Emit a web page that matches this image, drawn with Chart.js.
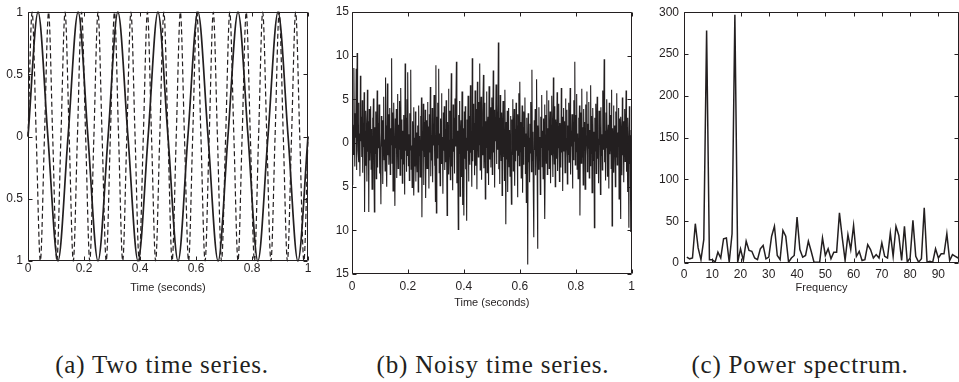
<!DOCTYPE html>
<html lang="en">
<head>
<meta charset="utf-8">
<title>time series</title>
<script src="https://cdn.jsdelivr.net/npm/chart.js@4.4.1/dist/chart.umd.min.js"></script>
<style>
  body { margin: 0; background: #fff; width: 959px; height: 382px; overflow: hidden; position: relative; }
  canvas { position: absolute; top: 0; }
  .cap { position: absolute; top: 352px; font-family: "Liberation Serif", serif; font-size: 25px;
         line-height: 25px; letter-spacing: 0.8px; color: #231f20; white-space: nowrap;
         transform: translateX(-50%); }
</style>
</head>
<body>
<canvas id="chart-a" width="320" height="300" style="left:0"></canvas>
<canvas id="chart-b" width="320" height="320" style="left:320px"></canvas>
<canvas id="chart-c" width="319" height="300" style="left:640px"></canvas>
<div class="cap" style="left:162px">(a) Two time series.</div>
<div class="cap" style="left:493px">(b) Noisy time series.</div>
<div class="cap" style="left:800px">(c) Power spectrum.</div>
<script>
// (a) 7 Hz solid wave, key points (zero, peak, zero, trough ...)
var slowTimes = [0, .036, .071, .107, .143, .179, .214, .25, .286, .321, .357, .393, .429, .464, .5,
  .536, .571, .607, .643, .679, .714, .75, .786, .821, .857, .893, .929, .964, 1];
var slowValues = [0, 1, 0, -1, 0, 1, 0, -1, 0, 1, 0, -1, 0, 1, 0, -1, 0, 1, 0, -1, 0, 1, 0, -1, 0, 1, 0, -1, 0];

// (a) 17 Hz dashed wave, key points
var fastTimes = [0, .0147, .0294, .0441, .0588, .0735, .0882, .1029, .1176, .1324, .1471, .1618, .1765,
  .1912, .2059, .2206, .2353, .25, .2647, .2794, .2941, .3088, .3235, .3382, .3529, .3676, .3824, .3971,
  .4118, .4265, .4412, .4559, .4706, .4853, .5, .5147, .5294, .5441, .5588, .5735, .5882, .6029, .6176,
  .6324, .6471, .6618, .6765, .6912, .7059, .7206, .7353, .75, .7647, .7794, .7941, .8088, .8235, .8382,
  .8529, .8676, .8824, .8971, .9118, .9265, .9412, .9559, .9706, .9853, 1];
var fastValues = [0, 1, 0, -1, 0, 1, 0, -1, 0, 1, 0, -1, 0, 1, 0, -1, 0, 1, 0, -1, 0, 1, 0, -1,
  0, 1, 0, -1, 0, 1, 0, -1, 0, 1, 0, -1, 0, 1, 0, -1, 0, 1, 0, -1, 0, 1, 0, -1,
  0, 1, 0, -1, 0, 1, 0, -1, 0, 1, 0, -1, 0, 1, 0, -1, 0, 1, 0, -1, 0];

// (b) noisy signal, 601 samples evenly over 0..1 s
var noisy = [
  0.5, -4.8, 2.1, -1.3, 8.6, 1.9, -2.7, 3.4, 0.6, 8.5, -3.1, 10.3, 2.4, -0.9, 4.6, -2.2, 1.1, -3.8, 7.7, 0.2,
  3.0, -1.6, 4.9, -3.4, 2.2, -0.5, 5.8, -7.9, 1.4, -2.6, 3.7, 0.8, -4.4, 6.1, -1.0, 2.5, -7.9, 3.9, -2.0, 0.7,
  4.2, -3.0, 1.6, -5.3, 2.9, 0.3, 5.1, -2.4, -7.9, 1.8, -1.2, 3.6, -4.1, 0.9, 6.0, -2.8, 2.3, -0.6, 4.4, -3.5,
  1.2, -2.1, -7.0, 3.1, -0.4, 2.6, -4.7, 1.5, 5.3, -1.9, 0.4, -3.2, 7.5, -0.8, 2.0, -5.0, 6.8, -1.4, 3.3, -2.5,
  0.9, 4.0, -3.6, 1.7, -0.2, 9.7, -2.3, 3.5, -5.5, 1.0, 4.6, -1.7, -7.2, 2.8, -0.6, 3.9, -4.0, 1.3, 5.6, -2.9,
  2.1, -0.7, 4.8, -3.7, 0.5, 6.3, -1.8, 2.7, -4.6, 1.4, -2.4, 3.2, 0.1, -5.9, 9.1, -0.9, 2.9, -3.3, 5.0, -1.5,
  8.1, -2.6, 1.0, -4.3, 3.4, -0.8, 8.4, -3.0, -0.3, -5.1, 2.5, -1.9, 4.1, -6.0, 0.6, -2.7, 3.6, -4.4, 1.2, -0.5,
  -3.3, 2.0, -5.6, 4.3, -1.4, 0.8, -3.9, 3.1, -2.2, 5.2, -8.5, 1.3, -0.9, 4.5, -4.8, 2.4, -1.6, 3.8, -6.3, 0.4,
  2.6, -2.9, 4.7, -0.6, 1.9, -5.2, 3.3, -1.1, 6.4, -3.8, 0.9, -2.0, 4.0, -4.5, 2.2, -0.3, 5.5, -2.6, 1.5, -6.7,
  8.9, -8.0, 3.0, -1.7, 4.6, -0.2, 8.5, -3.4, 1.1, -4.9, 2.8, -1.3, 5.7, -2.4, 0.7, -5.8, 3.5, -0.9, 4.2, -3.1,
  1.6, -2.2, 4.9, -0.7, -8.3, 2.4, -1.5, 6.2, -3.6, 0.3, 3.7, -4.2, 1.8, 8.0, -2.7, 0.5, -5.4, 4.4, -1.0, 2.9,
  -3.5, 5.1, -0.4, 2.0, 9.3, -4.6, 1.4, -2.3, -9.9, 3.2, -1.2, 4.8, -6.1, 0.8, 2.6, -3.9, 5.9, -0.6, -7.1, 1.7,
  -8.3, 3.6, -1.8, 4.2, -3.0, 0.6, -8.9, 2.7, -0.9, 5.4, -4.4, 1.5, 3.1, -2.5, 6.6, -1.1, 0.3, -5.0, 9.7, -2.1,
  4.5, -0.8, 2.3, -3.7, 6.0, 0.9, -2.6, 3.9, -5.3, 7.0, 1.2, -1.6, 4.7, -0.2, 9.1, -3.1, 2.8, 5.3, -4.2, 1.9,
  -1.4, 3.4, 7.8, -2.9, 0.7, 4.6, -6.4, 2.5, -0.5, 5.9, -3.4, 1.7, 3.0, -4.8, 6.5, -1.9, 0.4, 4.1, -2.8, 2.2,
  5.2, -3.6, 1.3, 8.3, -1.1, 3.8, -5.1, 2.6, 0.2, 6.7, -2.4, 4.4, -0.7, 1.9, 11.5, -3.0, 2.9, -4.7, 5.5, 0.6,
  -2.0, 3.5, -6.0, 1.0, 4.8, -1.6, 2.1, -4.3, 6.1, -0.3, -9.3, 2.4, -1.9, 3.7, -5.6, 0.8, 4.0, -2.7, 1.5, -3.8,
  3.1, -0.6, -7.0, 2.7, -1.3, 5.0, -3.2, 0.5, 3.9, -4.9, 1.6, -2.1, 4.6, -0.9, 2.0, -6.2, 3.3, -1.4, 5.7, -2.6,
  7.0, -1.0, 2.4, -4.0, 0.9, 4.3, -5.7, 1.8, -2.5, 3.6, -0.4, 5.2, -3.5, 1.1, -6.8, 2.9, -1.7, -13.9, 3.4, -2.2,
  0.6, -4.5, 2.2, -1.2, 4.7, -3.3, 8.4, -2.0, 1.3, -5.4, -10.8, 2.6, -0.8, 3.9, -3.7, 0.2, 7.3, -1.5, -12.1, 2.0,
  -3.0, 4.1, -1.9, 0.7, -5.9, 3.0, -0.5, 5.5, -2.7, 1.4, -4.1, 2.8, -1.0, 4.4, -8.7, 0.9, 3.2, -2.3, 6.0, -3.6,
  1.7, -0.8, 4.9, -2.9, 0.4, 3.6, -4.6, 2.1, -1.4, 5.4, -0.2, -3.9, 7.5, 1.0, -2.4, 4.2, -5.0, 2.7, 0.3, -1.8,
  5.8, -3.2, 1.9, -0.6, 4.5, -4.4, 2.3, 0.8, -2.8, 6.3, -1.1, 3.0, -5.5, 1.6, 4.0, -0.9, 2.5, -3.4, 5.1, -1.7,
  0.5, 3.8, -4.7, 2.0, -1.3, 4.6, -2.2, 0.9, 6.3, -3.6, 1.4, -0.4, 3.3, -5.2, 2.6, -1.9, 4.9, 0.2, 9.3, -2.5,
  3.2, -1.0, 5.6, -3.0, 1.1, -4.1, 2.9, -0.7, 4.3, -8.3, 0.6, 3.5, -2.3, 6.2, -1.6, 1.8, -4.8, 3.9, -0.3, 2.4,
  -5.3, 4.4, -1.5, 0.8, 5.9, -3.3, 2.2, -0.6, 4.7, -4.0, 1.5, -2.6, 6.6, -1.2, 3.1, -5.7, 0.4, 4.0, -2.0, 1.3,
  -9.7, 2.9, -0.9, 4.5, -3.5, 1.9, 5.3, -1.8, 0.5, -4.6, 3.7, -0.2, 2.4, -5.9, 4.1, -1.4, 1.0, -3.1, 6.0, -0.7,
  2.6, 9.6, -2.2, 1.4, -4.3, 3.5, -0.6, 5.0, -3.8, 0.9, 2.1, -5.2, 4.6, -1.3, 0.3, 3.2, -2.9, 6.1, -9.5, 1.7,
  -1.1, 4.3, -3.4, 2.0, 0.6, -5.0, 3.6, -1.6, 5.7, -2.5, 1.2, -0.4, 4.0, -6.4, 2.8, -1.9, -8.7, 3.0, 0.8, -3.7,
  5.2, -1.4, 2.5, -4.5, 1.0, 3.9, -2.1, 0.4, 6.0, -3.3, 1.8, -5.6, 2.9, -0.8, -9.7, 4.2, -2.4, 0.9, -10.2, 1.5,
  -0.5
];

// (c) power spectrum
var freqs = [1, 2, 3, 4, 5, 6, 7, 8, 9, 10, 11, 12, 13, 14, 15, 16, 17, 18, 19, 20, 21, 22, 23, 24, 25,
  26, 27, 28, 29, 30, 31, 32, 33, 34, 35, 36, 37, 38, 39, 40, 41, 42, 43, 44, 45, 46, 47, 48, 49, 50,
  51, 52, 53, 54, 55, 56, 57, 58, 59, 60, 61, 62, 63, 64, 65, 66, 67, 68, 69, 70, 71, 72, 73, 74, 75,
  76, 77, 78, 79, 80, 81, 82, 83, 84, 85, 86, 87, 88, 89, 90, 91, 92, 93, 94, 95, 96, 97];
var power = [7, 5, 6, 47, 18, 4, 28, 278, 4, 4, 1, 13, 6, 29, 30, 1, 35, 297, 1, 17,
  3, 26, 15, 14, 6, 4, 17, 21, 5, 7, 32, 44, 9, 4, 39, 32, 1, 6, 9, 55,
  16, 7, 9, 26, 14, 1, 1, 1, 30, 9, 17, 5, 13, 13, 60, 30, 3, 34, 16, 45,
  8, 14, 3, 4, 22, 16, 6, 10, 6, 24, 8, 6, 36, 8, 44, 33, 3, 44, 1, 6,
  51, 8, 1, 5, 66, 1, 2, 1, 17, 6, 11, 11, 35, 3, 10, 8, 6];

var ink = '#231f20';
var tickFont = { family: '"Liberation Sans", Arial, sans-serif', size: 12 };

function pairs(xs, ys) {
  return ys.map(function (v, i) { return { x: xs[i], y: v }; });
}

// MATLAB style box with inward ticks on all four sides
var boxPlugin = {
  id: 'box',
  afterDraw: function (chart) {
    var ctx = chart.ctx, a = chart.chartArea;
    var xs = chart.scales.x, ys = chart.scales.y, len = 4;
    var l = Math.round(a.left) + 0.5, r = Math.round(a.right) - 0.5;
    var t = Math.round(a.top) + 0.5, b = Math.round(a.bottom) - 0.5;
    ctx.save();
    ctx.strokeStyle = ink;
    ctx.lineWidth = 1;
    ctx.beginPath();
    xs.ticks.forEach(function (tk) {
      var px = Math.round(xs.getPixelForValue(tk.value)) + 0.5;
      ctx.moveTo(px, b); ctx.lineTo(px, b - len);
      ctx.moveTo(px, t); ctx.lineTo(px, t + len);
    });
    ys.ticks.forEach(function (tk) {
      var py = Math.round(ys.getPixelForValue(tk.value)) + 0.5;
      ctx.moveTo(l, py); ctx.lineTo(l + len, py);
      ctx.moveTo(r, py); ctx.lineTo(r - len, py);
    });
    ctx.rect(l, t, r - l, b - t);
    ctx.stroke();
    ctx.restore();
  }
};

function axis(o) {
  return {
    type: 'linear',
    min: o.min, max: o.max,
    grid: { display: false, drawTicks: false },
    border: { display: false },
    ticks: {
      stepSize: o.step, includeBounds: false, autoSkip: false, maxRotation: 0,
      font: tickFont, color: ink, padding: o.pad,
      callback: function (v) { return String(Math.abs(Number(v.toFixed(1)))); }
    },
    title: o.title ? { display: true, text: o.title, color: ink,
      font: { family: tickFont.family, size: 11 }, padding: { top: 0, bottom: o.titlePad } } : { display: false },
    afterFit: function (s) { if (o.width) s.width = o.width; if (o.height) s.height = o.height; }
  };
}

function makeChart(id, datasets, x, y, pad) {
  return new Chart(document.getElementById(id), {
    type: 'line',
    data: { datasets: datasets },
    options: {
      responsive: false, animation: false, devicePixelRatio: 1,
      layout: { padding: pad },
      plugins: { legend: { display: false }, tooltip: { enabled: false } },
      scales: { x: x, y: y }
    },
    plugins: [boxPlugin]
  });
}

makeChart('chart-a', [
  { data: pairs(fastTimes, fastValues), borderColor: ink, borderWidth: 1.2, borderDash: [5, 3],
    pointRadius: 0, cubicInterpolationMode: 'monotone', clip: 3 },
  { data: pairs(slowTimes, slowValues), borderColor: ink, borderWidth: 1.7,
    pointRadius: 0, cubicInterpolationMode: 'monotone', clip: 3 }
], axis({ min: 0, max: 1, step: 0.2, pad: 0, title: 'Time (seconds)', titlePad: 5, height: 39 }),
   axis({ min: -1, max: 1, step: 0.5, pad: 5, width: 28 }),
   { top: 11, right: 12, left: 0, bottom: 0 });

var noisyTimes = noisy.map(function (v, i) { return i / (noisy.length - 1); });
makeChart('chart-b', [
  { data: pairs(noisyTimes, noisy), borderColor: ink, borderWidth: 1.1, pointRadius: 0, tension: 0 }
], axis({ min: 0, max: 1, step: 0.2, pad: 5, title: 'Time (seconds)', titlePad: 10, height: 46 }),
   axis({ min: -15, max: 15, step: 5, pad: 3, width: 32 }),
   { top: 12, right: 5, left: 0, bottom: 0 });

makeChart('chart-c', [
  { data: pairs(freqs, power), borderColor: ink, borderWidth: 1.5, pointRadius: 0, tension: 0 }
], axis({ min: 0, max: 97.3, step: 10, pad: 4, title: 'Frequency', titlePad: 5, height: 37 }),
   axis({ min: 0, max: 300, step: 50, pad: 5, width: 44 }),
   { top: 12, right: 0, left: 0, bottom: 0 });
</script>
</body>
</html>
